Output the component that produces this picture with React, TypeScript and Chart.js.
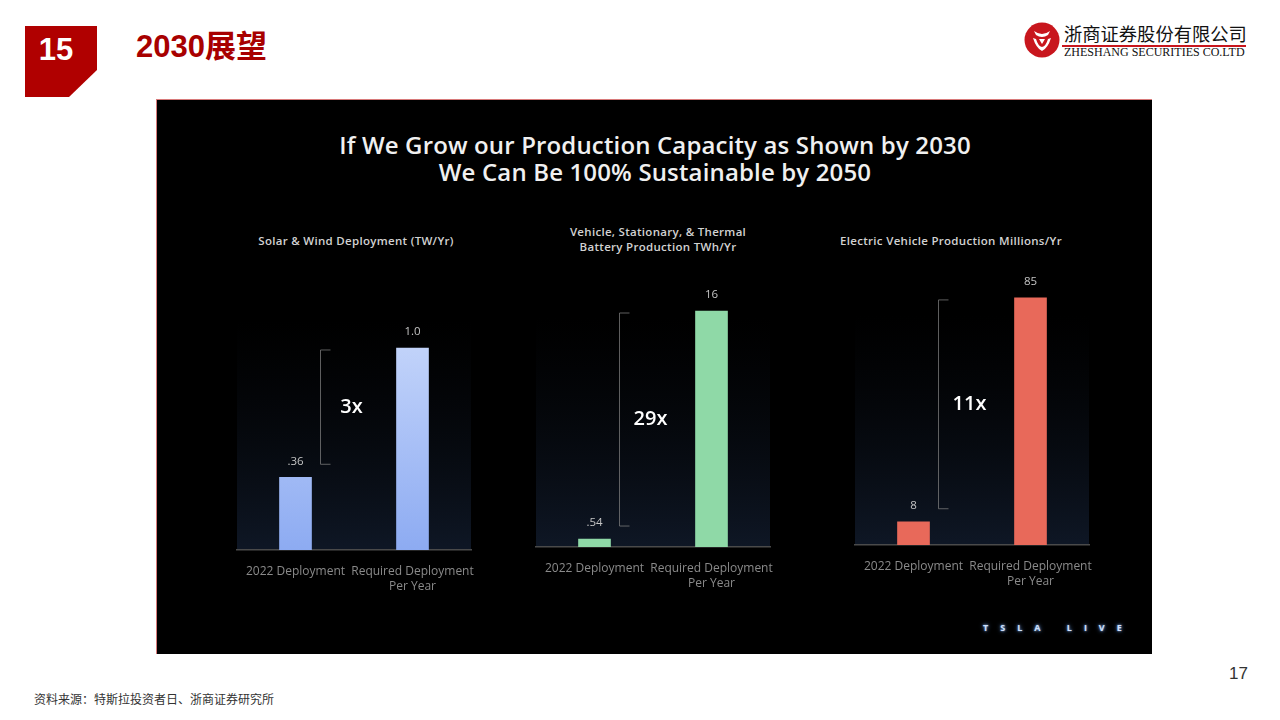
import React, { useEffect, useRef } from "react";
import { Chart, registerables } from "chart.js";
Chart.register(...registerables);

// ---------- data ----------
const CATEGORIES = [["2022 Deployment"], ["Required Deployment", "Per Year"]];
const SOLAR_VALUES = [0.36, 1.0];
const SOLAR_LABELS = [".36", "1.0"];
const BATTERY_VALUES = [0.54, 16];
const BATTERY_LABELS = [".54", "16"];
const EV_VALUES = [8, 85];
const EV_LABELS = ["8", "85"];
const MULTIPLIERS = ["3x", "29x", "11x"];
const CHART_TITLES = [
  ["Solar & Wind Deployment (TW/Yr)"],
  ["Vehicle, Stationary, & Thermal", "Battery Production TWh/Yr"],
  ["Electric Vehicle Production Millions/Yr"],
];
const Y_MAX = [1.386, 18.78, 94.6];

const FONT = '"Open Sans", "Noto Sans", sans-serif';

const glowPlugin = {
  id: "glowBg",
  beforeDraw(chart: any) {
    const { ctx, chartArea: a } = chart;
    if (!a) return;
    const h = 230;
    const g = ctx.createLinearGradient(0, a.bottom, 0, a.bottom - h);
    g.addColorStop(0, "rgba(24,38,62,0.6)");
    g.addColorStop(1, "rgba(12,18,28,0)");
    ctx.save();
    ctx.fillStyle = g;
    ctx.fillRect(a.left, a.bottom - h, a.right - a.left, h);
    ctx.restore();
  },
};

const annotPlugin = {
  id: "annot",
  afterDatasetsDraw(chart: any) {
    const opts = chart.options.plugins.annot;
    if (!opts) return;
    const { ctx } = chart;
    const meta = chart.getDatasetMeta(0);
    const b0 = meta.data[0];
    const b1 = meta.data[1];
    ctx.save();
    // value labels
    ctx.fillStyle = "#c4c4c4";
    ctx.font = `400 11.5px ${FONT}`;
    ctx.textAlign = "center";
    ctx.textBaseline = "middle";
    meta.data.forEach((bar: any, i: number) => {
      ctx.fillText(opts.labels[i], bar.x, bar.y - 16);
    });
    // bracket
    const x = Math.round(b0.x + 24) + 0.5;
    const top = b1.y + 2;
    const bottom = b0.y - 13;
    ctx.strokeStyle = "rgba(125,125,125,0.75)";
    ctx.lineWidth = 1;
    ctx.beginPath();
    ctx.moveTo(x + 10, top);
    ctx.lineTo(x, top);
    ctx.lineTo(x, bottom);
    ctx.lineTo(x + 10, bottom);
    ctx.stroke();
    // multiplier
    ctx.fillStyle = "#ffffff";
    ctx.font = `600 20px ${FONT}`;
    ctx.fillText(opts.multiplier, x + 31, (top + bottom) / 2);
    ctx.restore();
  },
};

type BarProps = {
  values: number[];
  labels: string[];
  multiplier: string;
  yMax: number;
  color: string | [string, string];
  left: number;
  top: number;
  baseline: number;
};

function BarChart({ values, labels, multiplier, yMax, color, left, top, baseline }: BarProps) {
  const ref = useRef<HTMLCanvasElement>(null);
  const width = 254;
  const height = baseline + 50 - top;
  useEffect(() => {
    if (!ref.current) return;
    const chart = new Chart(ref.current, {
      type: "bar",
      data: {
        labels: CATEGORIES,
        datasets: [
          {
            data: values,
            barThickness: 32,
            borderWidth: 0,
            backgroundColor: (c: any) => {
              if (typeof color === "string") return color;
              const a = c.chart.chartArea;
              if (!a) return color[1];
              const g = c.chart.ctx.createLinearGradient(0, a.bottom, 0, a.top + 70);
              g.addColorStop(0, color[1]);
              g.addColorStop(1, color[0]);
              return g;
            },
          },
        ],
      },
      options: {
        responsive: false,
        maintainAspectRatio: false,
        animation: false,
        devicePixelRatio: 1,
        layout: { padding: { left: 10, right: 10, top: 10, bottom: 0 } },
        scales: {
          x: {
            grid: { display: false, drawTicks: false },
            border: { display: true, color: "#4a4a4a", width: 1.5 },
            ticks: {
              color: "#8a8a8a",
              font: { family: FONT, size: 12, lineHeight: 1.25 },
              padding: 14,
              maxRotation: 0,
              autoSkip: false,
            },
            afterFit: (s: any) => {
              s.height = 50;
              s.paddingLeft = 0;
              s.paddingRight = 0;
            },
          },
          y: { display: false, min: 0, max: yMax },
        },
        plugins: {
          legend: { display: false },
          tooltip: { enabled: false },
          annot: { labels, multiplier },
        } as any,
      },
      plugins: [glowPlugin, annotPlugin],
    } as any);
    return () => chart.destroy();
  }, []);
  return (
    <canvas
      ref={ref}
      width={width}
      height={height}
      style={{ position: "absolute", left, top, width, height }}
    />
  );
}

function Title({ lines, cx, cy }: { lines: string[]; cx: number; cy: number }) {
  return (
    <div
      style={{
        position: "absolute",
        left: cx - 150,
        width: 300,
        top: cy - (lines.length * 15) / 2,
        textAlign: "center",
        color: "#d2d2d2",
        font: `600 11.5px/15px ${FONT}`,
        letterSpacing: 0.3,
        whiteSpace: "nowrap",
      }}
    >
      {lines.map((l, i) => (
        <div key={i}>{l}</div>
      ))}
    </div>
  );
}

export default function App() {
  return (
    <div
      style={{
        position: "fixed",
        left: 0,
        top: 0,
        width: 1280,
        height: 720,
        background: "#ffffff",
        overflow: "hidden",
        fontFamily: '"Liberation Sans", Arial, sans-serif',
      }}
    >
      {/* header badge */}
      <div
        style={{
          position: "absolute",
          left: 25,
          top: 26,
          width: 72,
          height: 71,
          background: "#b00000",
          clipPath: "polygon(0 0, 72px 0, 72px 44px, 44px 71px, 0 71px)",
        }}
      />
      <div
        style={{
          position: "absolute",
          left: 25,
          top: 30,
          width: 62,
          textAlign: "center",
          color: "#fff",
          font: 'bold 31px/40px "Liberation Sans", Arial, sans-serif',
        }}
      >
        15
      </div>
      <div
        style={{
          position: "absolute",
          left: 136,
          top: 28,
          color: "#a80000",
          font: 'bold 31px/38px "Liberation Sans", "Noto Sans CJK SC", sans-serif',
          whiteSpace: "nowrap",
        }}
      >
        2030展望
      </div>

      {/* logo */}
      <svg style={{ position: "absolute", left: 1024, top: 22 }} width={36} height={36} viewBox="0 0 36 36">
        <circle cx={18} cy={18} r={17.5} fill="#c8161d" />
        <path d="M10 9 Q18 15 26 9 L24 13 Q18 17 12 13 Z" fill="#fff" />
        <path d="M9 16 Q12 26 18 29 Q24 26 27 16 L24 17 Q22 24 18 25 Q14 24 12 17 Z" fill="#fff" />
        <path d="M15 17 L18 22 L21 17 Z" fill="#fff" />
      </svg>
      <div
        style={{
          position: "absolute",
          left: 1064,
          top: 21,
          color: "#111",
          font: '18.3px/24px "Noto Sans CJK SC", sans-serif',
          whiteSpace: "nowrap",
        }}
      >
        浙商证券股份有限公司
      </div>
      <div style={{ position: "absolute", left: 1062, top: 45, width: 184, height: 1.5, background: "#c8161d" }} />
      <div
        style={{
          position: "absolute",
          left: 1064,
          top: 45,
          color: "#111",
          font: '12px/14px "Liberation Serif", serif',
          whiteSpace: "nowrap",
        }}
      >
        ZHESHANG SECURITIES CO.LTD
      </div>

      {/* black panel */}
      <div
        style={{
          position: "absolute",
          left: 156,
          top: 99,
          width: 996,
          height: 555,
          background: "#000",
          borderTop: "1px solid #d87a7a",
          borderLeft: "1px solid #d87a7a",
          boxSizing: "border-box",
        }}
      />
      <div
        style={{
          position: "absolute",
          left: 255,
          width: 800,
          top: 131,
          textAlign: "center",
          color: "#f0f0f0",
          font: `600 24px/27px ${FONT}`,
          letterSpacing: 0.15,
          whiteSpace: "nowrap",
        }}
      >
        <div>If We Grow our Production Capacity as Shown by 2030</div>
        <div>We Can Be 100% Sustainable by 2050</div>
      </div>

      <Title lines={CHART_TITLES[0]} cx={356} cy={240} />
      <Title lines={CHART_TITLES[1]} cx={658} cy={239} />
      <Title lines={CHART_TITLES[2]} cx={951} cy={240} />

      <BarChart
        values={SOLAR_VALUES}
        labels={SOLAR_LABELS}
        multiplier={MULTIPLIERS[0]}
        yMax={Y_MAX[0]}
        color={["#c3d4fa", "#8dabf2"]}
        left={227}
        top={260}
        baseline={550}
      />
      <BarChart
        values={BATTERY_VALUES}
        labels={BATTERY_LABELS}
        multiplier={MULTIPLIERS[1]}
        yMax={Y_MAX[1]}
        color="#8fd9a7"
        left={526}
        top={260}
        baseline={547}
      />
      <BarChart
        values={EV_VALUES}
        labels={EV_LABELS}
        multiplier={MULTIPLIERS[2]}
        yMax={Y_MAX[2]}
        color="#e8695a"
        left={845}
        top={260}
        baseline={545}
      />

      <div
        style={{
          position: "absolute",
          left: 983,
          top: 621,
          color: "#cfe0fa",
          font: `bold 9px/14px ${FONT}`,
          letterSpacing: 12,
          whiteSpace: "nowrap",
          textShadow: "0 0 4px #5d8fd8, 0 0 2px #8fb6ee",
        }}
      >
        TSLA LIVE
      </div>

      {/* footer */}
      <div
        style={{
          position: "absolute",
          left: 1229,
          top: 664,
          color: "#333",
          font: '17px/20px "Liberation Sans", Arial, sans-serif',
        }}
      >
        17
      </div>
      <div
        style={{
          position: "absolute",
          left: 34,
          top: 691,
          color: "#333",
          font: '12px/16px "Noto Sans CJK SC", sans-serif',
          whiteSpace: "nowrap",
        }}
      >
        资料来源：特斯拉投资者日、浙商证券研究所
      </div>
    </div>
  );
}
